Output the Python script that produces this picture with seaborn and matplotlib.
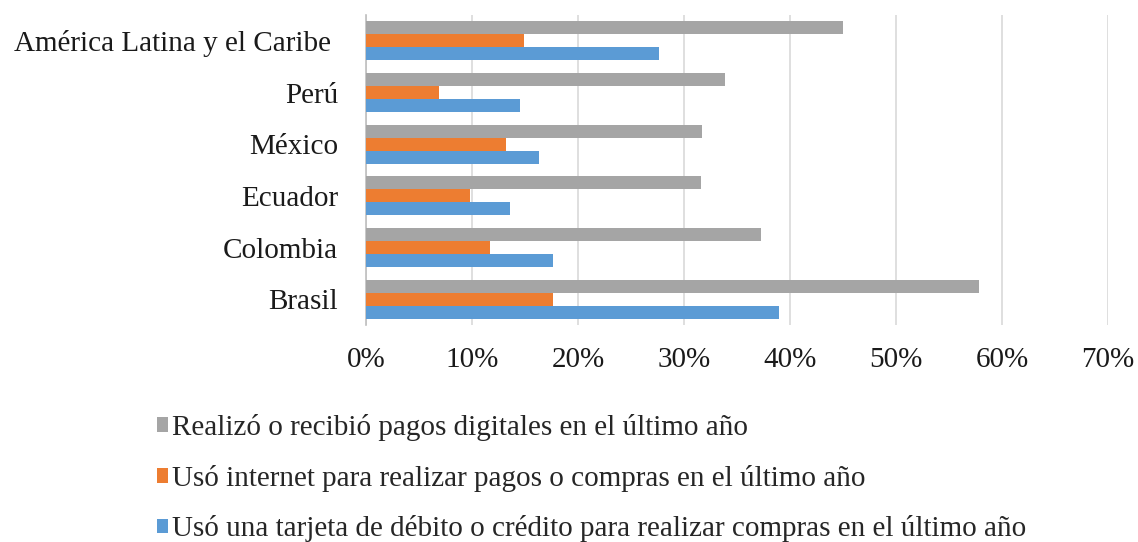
import pandas as pd
import numpy as np
import matplotlib
matplotlib.use("Agg")
import matplotlib.pyplot as plt
import seaborn as sns
from matplotlib.ticker import FuncFormatter

# Data (percent)
paises = ["América Latina y el Caribe ", "Perú", "México", "Ecuador", "Colombia", "Brasil"]
series = [
    "Realizó o recibió pagos digitales en el último año",
    "Usó internet para realizar pagos o compras en el último año",
    "Usó una tarjeta de débito o crédito para realizar compras en el último año",
]
pagos_digitales = [45.0, 33.9, 31.7, 31.6, 37.3, 57.8]
pagos_internet = [14.9, 6.9, 13.2, 9.8, 11.7, 17.6]
tarjeta = [27.6, 14.5, 16.3, 13.6, 17.6, 39.0]
colores = ["#A5A5A5", "#ED7D31", "#5B9BD5"]

df = pd.DataFrame({
    "pais": paises * 3,
    "serie": np.repeat(series, len(paises)),
    "valor": pagos_digitales + pagos_internet + tarjeta,
})

sns.set_style("white")
plt.rcParams["font.family"] = ["Liberation Serif", "DejaVu Serif"]

fig = plt.figure(figsize=(11.38, 5.42), dpi=100)
ax = fig.add_axes([366 / 1138, 1 - 325 / 542, (1108 - 366) / 1138, 310 / 542])

sns.barplot(data=df, x="valor", y="pais", hue="serie", hue_order=series,
            palette=colores, orient="h", width=0.76, ax=ax, legend=True,
            saturation=1, linewidth=0, zorder=3)

ax.set_xlim(0, 70)
ax.set_xticks(range(0, 71, 10))
ax.xaxis.set_major_formatter(FuncFormatter(lambda v, p: f"{v:.0f}%"))
ax.grid(axis="x", color="#D9D9D9", linewidth=1.2, zorder=0)
ax.set_axisbelow(True)
for s in ["top", "right", "bottom"]:
    ax.spines[s].set_visible(False)
ax.spines["left"].set_color("#BFBFBF")
ax.spines["left"].set_linewidth(1.2)
ax.tick_params(axis="y", length=0, pad=20, labelsize=21, colors="#1a1a1a")
ax.tick_params(axis="x", length=0, pad=16, labelsize=21, colors="#1a1a1a")
ax.set_xlabel("")
ax.set_ylabel("")

handles, labels = ax.get_legend_handles_labels()
ax.get_legend().remove()
fig.legend(handles, labels, loc="upper left", bbox_to_anchor=(145 / 1138, 1 - 402 / 542),
           frameon=False, fontsize=21, handlelength=0.4, handleheight=0.4,
           handletextpad=0.12, labelspacing=0.82, borderaxespad=0)

fig.savefig("out.png", dpi=100)
